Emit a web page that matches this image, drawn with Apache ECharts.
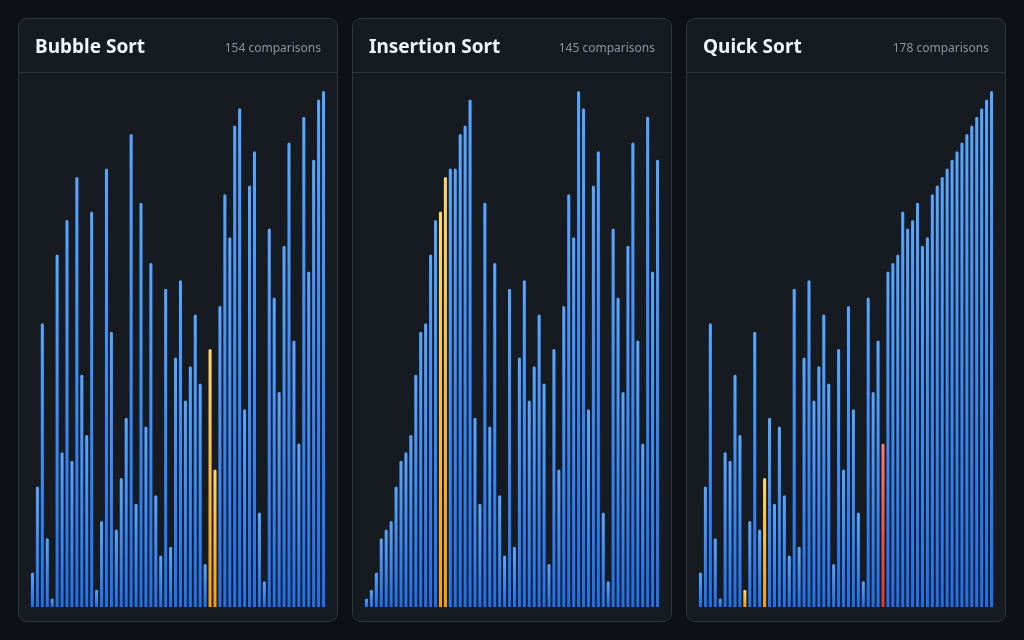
<!DOCTYPE html>
<html>
<head>
<meta charset="utf-8">
<script src="https://cdn.jsdelivr.net/npm/echarts@6/dist/echarts.min.js"></script>
<style>
  html, body { margin: 0; padding: 0; background: #0d1117; }
  #main { width: 1024px; height: 640px; }
</style>
</head>
<body>
<div id="main"></div>
<script>
// panel titles + comparison counts
var titles = ['Bubble Sort', 'Insertion Sort', 'Quick Sort'];
var comparisons = [154, 145, 178];

// bar values (60 bars each)
var bubbleVals = [4,14,33,8,1,41,18,45,17,50,27,20,46,2,10,51,32,9,15,22,55,12,47,21,40,13,6,37,7,29,
  38,24,28,34,26,5,30,16,35,48,43,56,58,23,49,53,11,3,44,36,25,42,54,31,19,57,39,52,59,60];
var insertionVals = [1,2,4,8,9,10,14,17,18,20,27,32,33,41,45,46,50,51,51,55,56,59,22,12,47,21,40,13,6,37,
  7,29,38,24,28,34,26,5,30,16,35,48,43,60,58,23,49,53,11,3,44,36,25,42,54,31,19,57,39,52];
var quickVals = [4,14,33,8,1,18,17,27,20,2,10,32,9,15,22,12,21,13,6,37,7,29,38,24,28,34,26,5,30,16,
  35,23,11,3,36,25,31,19,39,40,41,46,44,45,47,42,43,48,49,50,51,52,53,54,55,56,57,58,59,60];

// highlighted bars (index): compared = orange, pivot = red
var bubbleCompare = [36, 37];
var insertionCompare = [15, 16];
var quickCompare = [9, 13];
var quickPivot = [37];

var allVals = [bubbleVals, insertionVals, quickVals];
var allCompare = [bubbleCompare, insertionCompare, quickCompare];
var allPivot = [[], [], quickPivot];

function grad(c1, c2) {
  return new echarts.graphic.LinearGradient(0, 0, 0, 1, [
    { offset: 0, color: c1 },
    { offset: 1, color: c2 }
  ]);
}

var panelX = [18, 352, 686];
var panelW = 319;

var grids = [], xAxes = [], yAxes = [], series = [], graphics = [];

for (var p = 0; p < 3; p++) {
  var px = panelX[p];
  // panel box
  graphics.push({
    type: 'rect', z: -10,
    shape: { x: px + 0.5, y: 18.5, width: panelW, height: 603, r: 8 },
    style: { fill: '#161b22', stroke: '#30363d', lineWidth: 1 }
  });
  // header separator
  graphics.push({
    type: 'line', z: -9,
    shape: { x1: px + 1, y1: 72.5, x2: px + panelW, y2: 72.5 },
    style: { stroke: '#30363d', lineWidth: 1 }
  });
  graphics.push({
    type: 'text', x: px + 17, y: 48,
    style: {
      text: titles[p], fill: '#f0f6fc', font: 'bold 19px "Noto Sans", sans-serif',
      textVerticalAlign: 'middle'
    }
  });
  graphics.push({
    type: 'text', x: px + 303, y: 49,
    style: {
      text: comparisons[p] + ' comparisons', fill: '#8b949e', font: '12px "Noto Sans", sans-serif',
      textAlign: 'right', textVerticalAlign: 'middle'
    }
  });

  grids.push({ left: px + 12, top: 91, width: 296, bottom: 33 });
  xAxes.push({
    type: 'category', gridIndex: p, data: allVals[p].map(function (v, i) { return i; }),
    show: false
  });
  yAxes.push({ type: 'value', gridIndex: p, min: 0, max: 60, show: false });

  var data = allVals[p].map(function (v, i) {
    var c = grad('#58a6ff', '#1f6feb');
    if (allCompare[p].indexOf(i) >= 0) c = grad('#ffd866', '#f59e0b');
    if (allPivot[p].indexOf(i) >= 0) c = grad('#ff7b72', '#da3633');
    return { value: v, itemStyle: { color: c } };
  });
  series.push({
    type: 'bar', xAxisIndex: p, yAxisIndex: p,
    barCategoryGap: '38%',
    itemStyle: { borderRadius: [1.5, 1.5, 0, 0] },
    data: data,
    animation: false,
    silent: true
  });
}

var myChart = echarts.init(document.getElementById('main'));
myChart.setOption({
  backgroundColor: '#0d1117',
  animation: false,
  grid: grids,
  xAxis: xAxes,
  yAxis: yAxes,
  series: series,
  graphic: graphics
});
</script>
</body>
</html>
